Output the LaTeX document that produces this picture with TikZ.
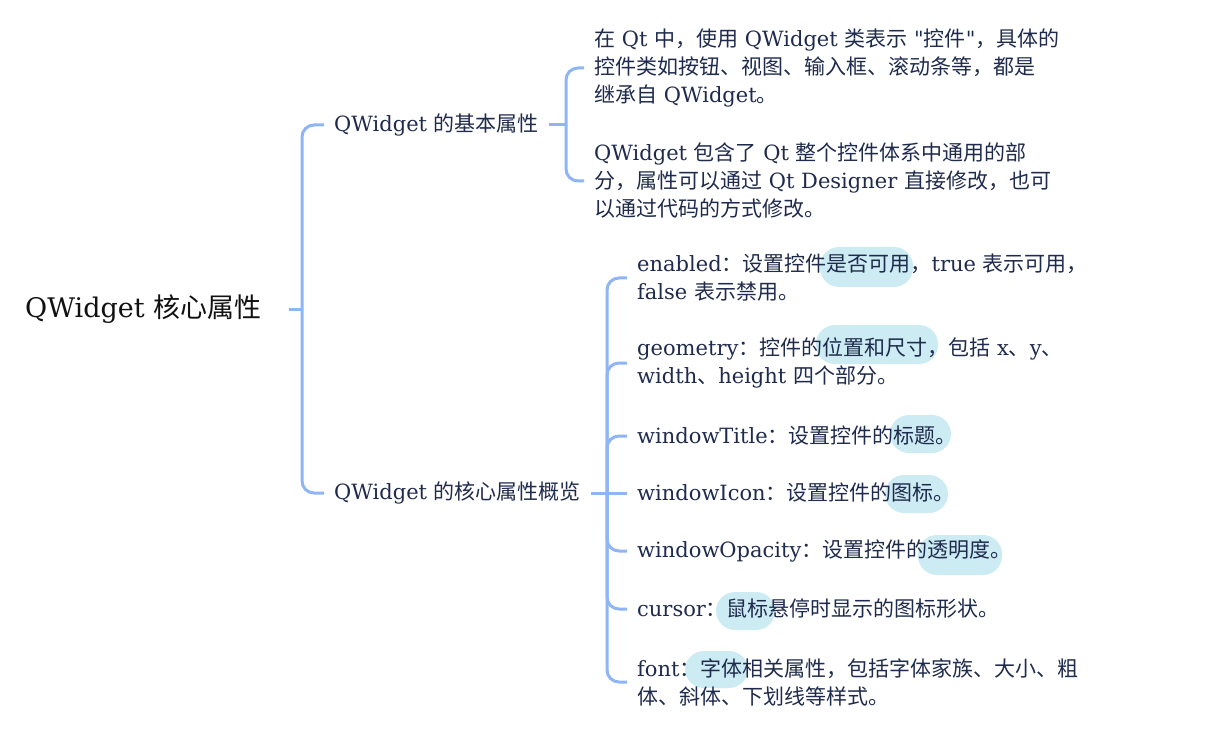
\documentclass[tikz,border=0pt]{standalone}
\usepackage{fontspec}
\setmainfont{DejaVu Serif}
\newfontfamily\cjkfont{Noto Sans CJK SC}
\newfontfamily\quotefont{DejaVu Serif}
\usepackage{xcolor}
\definecolor{branchBlue}{HTML}{8FB5F7}
\definecolor{pillCyan}{HTML}{CDEBF2}
\definecolor{darkText}{HTML}{1F2B4D}
\definecolor{rootText}{HTML}{111111}

% switch to the CJK family for Chinese characters and punctuation
\XeTeXinterchartokenstate=1
\newXeTeXintercharclass\cjkclass
\newcount\cjkchar
\def\setcjkrange#1#2{%
  \cjkchar=#1\relax
  \loop
    \XeTeXcharclass\cjkchar=\cjkclass\relax
  \ifnum\cjkchar<#2\relax
    \advance\cjkchar by 1\relax
  \repeat}
\setcjkrange{"3000}{"303F}
\setcjkrange{"4E00}{"9FFF}
\setcjkrange{"FF00}{"FFEF}
\XeTeXinterchartoks 0 \cjkclass = {\cjkfont}
\XeTeXinterchartoks 4095 \cjkclass = {\cjkfont}
\XeTeXinterchartoks \cjkclass 0 = {\rmfamily}
\XeTeXinterchartoks \cjkclass 4095 = {\rmfamily}
% straight double quote
\newcommand{\sq}{{\quotefont"}}

\usepackage{tikz}
\usetikzlibrary{positioning}
\tikzset{
    % Base style for all texts
    modern base/.style={
        font=\fontsize{21}{28}\selectfont,
        align=left,
        text=darkText,
        anchor=west,
        inner xsep=10pt,
        inner ysep=0pt,
    },
    % Central topic - larger, black
    root topic/.style={
        modern base,
        font=\fontsize{27}{32}\selectfont,
        text=rootText,
        inner xsep=28pt,
    },
    % Sub topics and leaves
    topic/.style={modern base},
    leaf/.style={modern base},
    % Bracket connector - thick light blue
    branch/.style={
        draw=branchBlue,
        line width=3pt,
        rounded corners=12pt,
    },
    % Highlight behind some words
    pill/.style={
        fill=pillCyan,
        rounded corners=19pt,
    },
}

\begin{document}
\begin{tikzpicture}[x=1pt, y=-1pt]
    \useasboundingbox (0,0) rectangle (1207,743);

    % highlights
    \fill [pill] (820,247) rectangle (913,287);
    \fill [pill] (816,325) rectangle (938,364);
    \fill [pill] (890,415) rectangle (951,453);
    \fill [pill] (885,475) rectangle (948,513);
    \fill [pill] (918,535) rectangle (1002,575);
    \fill [pill] (716,592) rectangle (775,630);
    \fill [pill] (685,651) rectangle (748,688);

    \node (root) [root topic] at (-3,309) {QWidget 核心属性};
    \node (basic) [topic] at (324,125) {QWidget 的基本属性};
    \node (overview) [topic] at (324,493) {QWidget 的核心属性概览};

    \node (desc1) [leaf] at (584,68) {在 Qt 中，使用 QWidget 类表示 \sq 控件\sq，具体的\\控件类如按钮、视图、输入框、滚动条等，都是\\继承自 QWidget。};
    \node (desc2) [leaf] at (584,181) {QWidget 包含了 Qt 整个控件体系中通用的部\\分，属性可以通过 Qt Designer 直接修改，也可\\以通过代码的方式修改。};

    \node (enabled) [leaf] at (627,278) {enabled：设置控件是否可用，true 表示可用，\\false 表示禁用。};
    \node (geometry) [leaf] at (627,363) {geometry：控件的位置和尺寸，包括 x、y、\\width、height 四个部分。};
    \node (title) [leaf] at (627,436) {windowTitle：设置控件的标题。};
    \node (icon) [leaf] at (627,493) {windowIcon：设置控件的图标。};
    \node (opacity) [leaf] at (627,551) {windowOpacity：设置控件的透明度。};
    \node (cursor) [leaf] at (627,609) {cursor：鼠标悬停时显示的图标形状。};
    \node (font) [leaf] at (627,682) {font：字体相关属性，包括字体家族、大小、粗\\体、斜体、下划线等样式。};

    \coordinate (j0) at (302,309);
    \coordinate (j1) at (566,125);
    \coordinate (j2) at (607,493);

    \draw [branch] (root.east) -- (j0);
    \draw [branch] (j0) |- (basic.west);
    \draw [branch] (j0) |- (overview.west);
    \draw [branch] (basic.east) -- (j1);
    \draw [branch] (j1) |- (desc1.west);
    \draw [branch] (j1) |- (desc2.west);
    \draw [branch] (overview.east) -- (j2);
    \draw [branch] (j2) -- (icon.west);
    \foreach \n in {enabled,geometry,title,opacity,cursor,font}
        \draw [branch] (j2) |- (\n.west);
\end{tikzpicture}
\end{document}
